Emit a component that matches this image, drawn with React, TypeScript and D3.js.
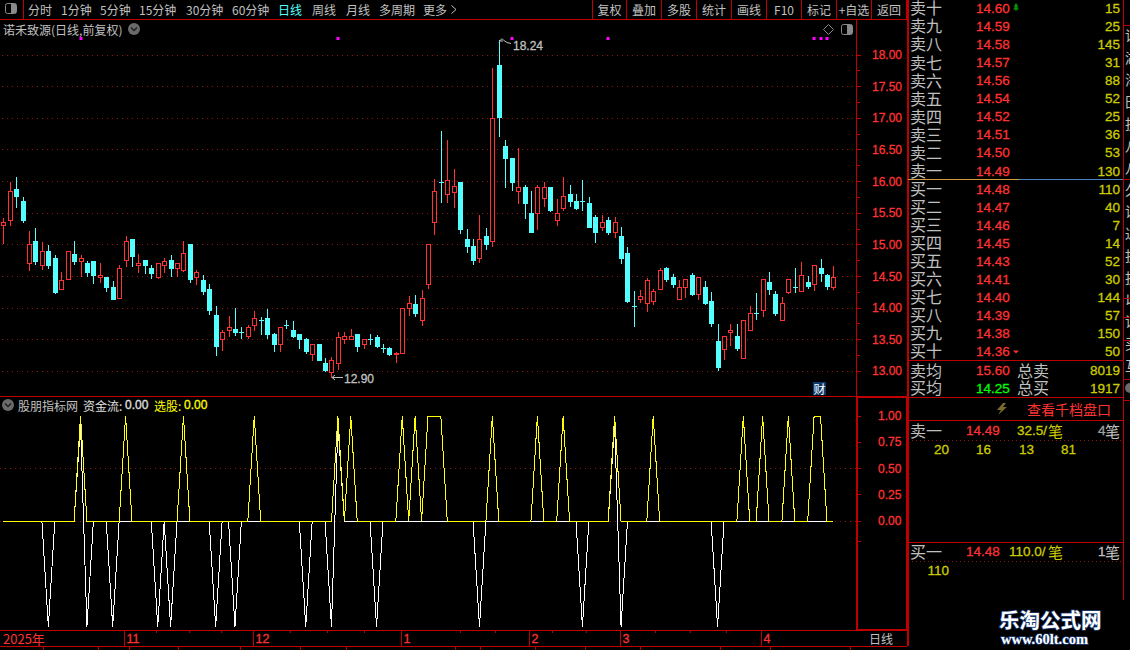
import React from "react";
import * as d3 from "d3";

const W = 1130, H = 650;

const highs = [15.43,15.99,16.07,15.76,15.22,15.27,15.05,15.00,14.84,14.57,
14.90,15.06,14.84,14.75,14.73,14.71,14.49,14.43,14.68,15.14,
15.08,14.86,14.76,14.68,14.70,14.79,14.84,14.71,15.06,15.00,
14.60,14.52,14.38,14.03,13.65,13.88,14.00,13.70,13.73,13.96,
13.86,13.99,13.61,13.70,13.81,13.80,13.59,13.53,13.42,13.42,
13.21,13.23,13.62,13.62,13.67,13.59,13.51,13.59,13.58,13.43,
13.39,13.31,14.00,14.19,14.21,14.29,15.00,16.04,16.80,16.66,
16.20,15.99,15.25,15.09,15.47,15.27,17.80,18.24,16.66,16.37,
16.53,15.95,15.85,15.95,15.99,15.91,15.72,16.07,15.95,15.80,
16.02,15.76,15.47,15.47,15.44,15.44,15.28,14.97,14.27,14.29,
14.48,14.30,14.63,14.65,14.54,14.45,14.46,14.56,14.49,14.43,
14.26,13.75,13.56,13.75,13.75,13.80,14.03,14.24,14.46,14.57,
14.27,14.18,14.45,14.63,14.73,14.51,14.68,14.78,14.54,14.67];

const lows = [15.01,15.30,15.58,15.35,14.59,14.68,14.60,14.62,14.22,14.29,
14.45,14.68,14.49,14.49,14.38,14.40,14.26,14.13,14.16,14.65,
14.65,14.56,14.54,14.46,14.46,14.56,14.49,14.49,14.57,14.40,
14.37,14.21,13.89,13.24,13.32,13.54,13.56,13.51,13.51,13.64,
13.58,13.51,13.31,13.31,13.67,13.53,13.35,13.27,13.16,13.16,
12.99,12.90,13.02,13.43,13.50,13.31,13.35,13.42,13.37,13.29,
13.24,13.13,13.29,13.88,13.86,13.72,14.30,15.16,15.66,15.66,
15.58,15.17,14.87,14.68,14.71,14.92,14.97,16.70,15.90,15.85,
15.65,15.41,15.20,15.24,15.60,15.52,15.30,15.54,15.60,15.55,
15.54,15.27,15.03,15.22,15.16,15.11,14.70,14.08,13.70,14.08,
13.94,14.05,14.29,14.41,14.32,14.14,14.16,14.19,14.13,14.05,
13.70,13.01,13.18,13.40,13.32,13.20,13.64,13.81,13.86,14.21,
13.88,13.81,14.22,14.24,14.27,14.30,14.27,14.41,14.29,14.29];

const opens = [15.31,15.39,15.87,15.68,14.70,15.06,14.68,14.90,14.78,14.29,
14.46,14.84,14.73,14.70,14.73,14.48,14.49,14.33,14.16,14.76,
15.08,14.68,14.76,14.62,14.48,14.68,14.76,14.62,14.60,15.00,
14.48,14.43,14.30,13.88,13.50,13.65,13.67,13.62,13.56,13.72,
13.81,13.83,13.58,13.42,13.72,13.64,13.58,13.51,13.26,13.42,
13.13,12.99,13.12,13.51,13.50,13.59,13.43,13.51,13.54,13.37,
13.37,13.26,13.29,13.99,14.05,13.80,14.38,15.36,15.98,15.80,
15.82,15.98,15.08,14.97,14.79,15.14,15.05,17.84,16.55,16.37,
15.84,15.91,15.49,15.50,15.74,15.91,15.39,15.58,15.79,15.68,
15.68,15.65,15.44,15.28,15.38,15.20,15.13,14.87,14.02,14.14,
14.07,14.11,14.29,14.62,14.48,14.14,14.33,14.51,14.21,14.33,
14.11,13.48,13.34,13.61,13.56,13.20,13.64,13.92,13.96,14.40,
14.22,13.81,14.24,14.32,14.27,14.41,14.38,14.62,14.52,14.32];

const closes = [15.35,15.84,15.76,15.39,15.00,14.73,14.90,14.67,14.24,14.43,
14.90,14.73,14.78,14.57,14.51,14.51,14.33,14.14,14.63,15.05,
14.81,14.70,14.67,14.54,14.70,14.73,14.62,14.71,14.87,14.46,
14.57,14.27,13.96,13.40,13.61,13.70,13.62,13.58,13.70,13.83,
13.80,13.58,13.43,13.69,13.69,13.56,13.51,13.31,13.42,13.18,
13.02,13.18,13.54,13.56,13.56,13.40,13.51,13.50,13.40,13.34,
13.27,13.29,14.00,14.07,13.91,14.16,15.00,15.84,15.96,16.02,
15.93,15.25,14.97,14.76,15.08,15.01,17.00,17.02,16.37,15.98,
15.90,15.65,15.20,15.91,15.91,15.55,15.49,15.77,15.68,15.57,
15.65,15.28,15.20,15.35,15.20,15.36,14.78,14.11,14.00,14.19,
14.43,14.27,14.59,14.45,14.38,14.32,14.46,14.21,14.49,14.08,
13.75,13.07,13.56,13.64,13.37,13.80,13.92,13.89,14.46,14.30,
13.91,14.08,14.45,14.30,14.51,14.35,14.68,14.54,14.35,14.49];

const selectSeries = [0,0,0,0,0,0,0,0,0,0,
0,0,1,0,0,0,0,0,0,1,
0,0,0,0,0,0,0,0,1,0,
0,0,0,0,0,0,0,0,0,1,
0,0,0,0,0,0,0,0,0,0,
0,0,1,0,1,0,0,0,0,0,
0,0,1,0,1,0,1,1,1,0,
0,0,0,0,0,0,1,0,0,0,
0,0,0,1,0,0,0,1,0,0,
0,0,0,0,0,1,0,0,0,0,
0,1,0,0,0,0,0,0,0,0,
0,0,0,0,0,1,0,0,1,0,
0,0,1,0,0,0,1,1,0,0];

const flowSeries = [0,0,0,0,0,0,0,-1,0,0,
0,0,0.92,-1,0,0,0,-1,0,0,
0,0,0,0,-1,0,-1,0,0,0,
0,0,0,-1,0,0,-1,0,0,0,
0,0,0,0,0,0,0,-1,0,0,
0,-1,0.92,0,0,0,0,0,-1,0,
0,0,0,0,0,0,0,0,0,0,
0,0,0,0,-1,0,0,0,0,0,
0,0,0,0,0,0,0,0,0,0,
-1,0,0,0,0,0.92,-1,0,0,0,
0,0,0,0,0,0,0,0,0,0,
0,-1,0,0,0,0,0,0,0,0,
0,0,0,0,0,0,0,0,0,0];

const markerDays = [12, 52, 79, 94, 126, 127, 128];
const priceGrid = [18, 17.5, 17, 16.5, 16, 15.5, 15, 14.5, 14, 13.5, 13];
const priceMinor = [17.75, 17.25, 16.75, 16.25, 15.75, 15.25, 14.75, 14.25, 13.75, 13.25];
const indicatorLabels = [1, 0.75, 0.5, 0.25, 0];
const indicatorExtraTicks = [-0.19];
const indicatorGrid = [0.5, 0];

const leftTabs: [string, number, boolean][] = [["分时",28,false],["1分钟",61,false],["5分钟",100,false],["15分钟",139,false],["30分钟",186,false],["60分钟",232,false],["日线",278,true],["周线",312,false],["月线",346,false],["多周期",379,false],["更多",423,false]];
const rightTabs = ["复权","叠加","多股","统计","画线","F10","标记","+自选","返回"];
const rightSeps = [592,626,661,696,731,766,801,836,871,906];

const askLabels = ["卖十","卖九","卖八","卖七","卖六","卖五","卖四","卖三","卖二","卖一"];
const askPrices = ["14.60","14.59","14.58","14.57","14.56","14.54","14.52","14.51","14.50","14.49"];
const askVols = [15,25,145,31,88,52,25,36,53,130];
const bidLabels = ["买一","买二","买三","买四","买五","买六","买七","买八","买九","买十"];
const bidPrices = ["14.48","14.47","14.46","14.45","14.43","14.41","14.40","14.39","14.38","14.36"];
const bidVols = [110,40,7,14,52,30,144,57,150,50];
const sellQueue: [string, number][] = [["20",949],["16",991],["13",1034],["81",1076]];

const monthLabels: [string, number][] = [["11",124.5],["12",253.5],["1",401.5],["2",529.5],["3",620.5],["4",761.5]];
const timeTicks = [156,189,221,290,327,364,460,495,552,586,655,690,726];
const stripSeps = [43,98,129,178,240,300,346,455,480,535,585,640,720,770,850];
const sideChars = ["证","湖","海","田","投","八","八","久","证","达","投","投","以","证","买","互"];

const RED = "#ff3232", FRAME = "#c00000", DOT = "#8c1414", GRAY = "#c0c0c0", VOL = "#cccc00", YEL = "#ffff00", CYAN = "#54ffff";
const CJK = "'Noto Sans CJK SC','Noto Sans',sans-serif";
const NUM = "'Liberation Sans',sans-serif";

const xS = d3.scaleLinear().domain([0, 129]).range([3.3, 833.4]);
const yS = d3.scaleLinear().domain([13, 18]).range([371.45, 55]);
const yI = d3.scaleLinear().domain([-1, 1]).range([626.5, 416]);
const cx = (i: number) => Math.round(xS(i)) + 0.5;
const snap = (y: number) => Math.round(y - 0.5) + 0.5;

const indicatorLine = d3.line<number>().x((_, i) => xS(i)).y((d) => yI(d));

function T({ x, y, c = GRAY, s = 12, a = "start", f = CJK, w = 400, children }: any) {
  const isNum = f === NUM;
  const dy = isNum ? 0 : -1;
  return <text x={x} y={y + dy} fill={c} fontSize={s} textAnchor={a} fontFamily={f} fontWeight={w} dominantBaseline="central"
    stroke={isNum ? c : undefined} strokeWidth={isNum ? 0.3 : undefined}>{children}</text>;
}
function HL({ x1, x2, y, c = FRAME, w = 1, dash }: any) {
  return <line x1={x1} x2={x2} y1={y} y2={y} stroke={c} strokeWidth={w} strokeDasharray={dash} shapeRendering="crispEdges" />;
}
function VL({ x, y1, y2, c = FRAME, w = 1 }: any) {
  return <line x1={x} x2={x} y1={y1} y2={y2} stroke={c} strokeWidth={w} shapeRendering="crispEdges" />;
}
function Chevron({ x, y }: { x: number; y: number }) {
  return <g>
    <circle cx={x} cy={y} r={6} fill="#6a6a6a" />
    <path d={`M${x - 3} ${y - 1.5}L${x} ${y + 1.5}L${x + 3} ${y - 1.5}`} fill="none" stroke="#1c1c1c" strokeWidth={1.3} />
  </g>;
}
function PanelIcon({ x, y }: { x: number; y: number }) {
  return <g>
    <rect x={x + 0.5} y={y + 0.5} width={11} height={10} rx={2} fill="none" stroke="#8a8a8a" />
    <rect x={x + 6} y={y + 1} width={5} height={9} fill="#8a8a8a" />
  </g>;
}

export default function App() {
  const n = opens.length;
  return (
    <svg width={W} height={H} viewBox={`0 0 ${W} ${H}`} style={{ position: "fixed", left: 0, top: 0, display: "block", background: "#000" }}>
      <rect width={W} height={H} fill="#000" />

      {/* toolbar */}
      <PanelIcon x={5} y={3} />
      <VL x={23.5} y1={0} y2={19} />
      {leftTabs.map(([t, x, on]) => <T key={t} x={x} y={10} c={on ? CYAN : GRAY}>{t}</T>)}
      <path d="M451.5 5.5L456 9.5L451.5 13.5" fill="none" stroke={GRAY} />
      <HL x1={0} x2={907} y={19.5} />
      {rightSeps.map((x) => <VL key={x} x={x + 0.5} y1={0} y2={19} />)}
      {rightTabs.map((t, i) => <T key={t} x={(rightSeps[i] + rightSeps[i + 1]) / 2 + 0.5} y={10} a="middle">{t}</T>)}

      {/* main panel */}
      <T x={3} y={30}>诺禾致源(日线,前复权)</T>
      <Chevron x={134} y={29} />
      {priceGrid.map((p) => <HL key={p} x1={2} x2={856} y={snap(yS(p))} c={DOT} dash="1 4" />)}
      {markerDays.map((i) => <rect key={i} x={cx(i) - 2} y={37} width={3} height={3} fill="#ff00ff" />)}
      <path d="M828.5 24.5L833.5 29.5L828.5 34.5L823.5 29.5Z" fill="none" stroke="#8a8a8a" />
      <PanelIcon x={841} y={24} />

      <g shapeRendering="crispEdges">
        {d3.range(n).map((i) => {
          const up = closes[i] >= opens[i];
          const col = up ? RED : CYAN;
          const top = snap(yS(Math.max(opens[i], closes[i])));
          const bot = snap(yS(Math.min(opens[i], closes[i])));
          const c = cx(i);
          const hh = bot - top;
          return <g key={i}>
            <line x1={c} x2={c} y1={yS(highs[i])} y2={yS(lows[i])} stroke={col} strokeWidth={1} />
            {up
              ? <rect x={c - 2} y={top} width={4} height={Math.max(hh, 1)} fill="#000" stroke={col} strokeWidth={1} />
              : hh <= 2
                ? <line x1={c - 2.5} x2={c + 2.5} y1={top} y2={top} stroke={col} strokeWidth={1} />
                : <rect x={c - 2.5} y={top - 0.5} width={5} height={hh + 1} fill={col} />}
          </g>;
        })}
      </g>

      <path d="M499 42.5C501 38 502 38.5 504 40.5L507 42.5L511 43.5" fill="none" stroke={GRAY} />
      <path d="M500 41L503 41" stroke={GRAY} />
      <T x={513} y={46} f={NUM} s={12}>18.24</T>
      <path d="M343 377.5H332M335 375L332 377.5L335 380" fill="none" stroke={GRAY} />
      <T x={344} y={378.5} f={NUM} s={12}>12.90</T>

      <rect x={813} y={382} width={13} height={13} fill="#0a3a6e" />
      <T x={819.5} y={389} c="#fff" a="middle" s={12}>财</T>

      <HL x1={0} x2={907} y={396.5} />

      {/* price axis */}
      <VL x={856.5} y1={19} y2={630} w={1} />
      {priceGrid.map((p) => <g key={p}>
        <HL x1={856} x2={861} y={snap(yS(p))} />
        <T x={872} y={yS(p)} c={RED} f={NUM} s={12}>{p.toFixed(2)}</T>
      </g>)}
      {priceMinor.map((p) => <HL key={p} x1={856} x2={860} y={snap(yS(p))} />)}

      {/* indicator panel */}
      <Chevron x={8} y={405} />
      <T x={18} y={406}>股朋指标网</T>
      <T x={83} y={406} c="#e0e0e0">资金流: </T>
      <T x={125} y={405} c="#e0e0e0" f={NUM} s={12}>0.00</T>
      <T x={154} y={406} c={YEL}>选股: </T>
      <T x={184} y={405} c={YEL} f={NUM} s={12}>0.00</T>
      {indicatorGrid.map((v) => <HL key={v} x1={0} x2={856} y={snap(yI(v))} c={DOT} dash="1 4" />)}
      <path d={indicatorLine(flowSeries) || ""} fill="none" stroke="#fff" strokeWidth={1} shapeRendering="crispEdges" />
      <path d={indicatorLine(selectSeries) || ""} fill="none" stroke={YEL} strokeWidth={1} shapeRendering="crispEdges" />
      {indicatorLabels.map((v) => <g key={v}>
        <HL x1={856} x2={861} y={snap(yI(v))} />
        <T x={878} y={yI(v)} c={RED} f={NUM} s={12}>{v.toFixed(2)}</T>
      </g>)}
      {indicatorExtraTicks.map((v) => <HL key={v} x1={856} x2={861} y={snap(yI(v))} />)}

      {/* frames round the axis */}
      <rect x={857} y={397} width={50} height={233} fill="none" stroke={FRAME} strokeWidth={2} shapeRendering="crispEdges" />
      <VL x={907.5} y1={0} y2={646} w={2} />

      {/* time axis */}
      <HL x1={0} x2={907} y={630.5} />
      <HL x1={0} x2={907} y={646.5} />
      <T x={3} y={639.5} c={RED} s={13}>2025年</T>
      {monthLabels.map(([t, x]) => <g key={t}>
        <VL x={x} y1={630} y2={646} />
        <T x={x + 2} y={638.5} c={RED} f={NUM} s={12.5}>{t}</T>
      </g>)}
      {timeTicks.map((x) => <VL key={x} x={x + 0.5} y1={630} y2={633} />)}
      <T x={869} y={639} s={12}>日线</T>
      {stripSeps.map((x) => <VL key={x} x={x + 0.5} y1={646} y2={650} />)}
      <T x={5} y={656} s={12}>指标</T>
      <T x={47} y={656} s={12} c={VOL}>模板</T>
      <T x={350} y={656} s={12}>指标</T>
      <T x={780} y={656} s={12}>模板</T>

      {/* order book */}
      <VL x={1123.5} y1={0} y2={600} />
      {askLabels.map((t, i) => {
        const y = 8.3 + i * 18.08;
        return <g key={t}>
          <T x={910} y={y} s={16}>{t}</T>
          <T x={976} y={y} c={RED} f={NUM} s={13.5}>{askPrices[i]}</T>
          <T x={1120} y={y} c={VOL} f={NUM} s={13.5} a="end">{askVols[i]}</T>
        </g>;
      })}
      <path d="M1016 3L1018.5 6.5H1017L1019 9.5H1017V10.5H1015V9.5H1013L1015 6.5H1013.5Z" fill="#0a8a0a" />
      <line x1={908} x2={1019} y1={179.5} y2={179.5} stroke="#d89a40" shapeRendering="crispEdges" />
      <line x1={1019} x2={1123} y1={179.5} y2={179.5} stroke="#4a86c8" shapeRendering="crispEdges" />
      {bidLabels.map((t, i) => {
        const y = 189 + i * 18.02;
        return <g key={t}>
          <T x={910} y={y} s={16}>{t}</T>
          <T x={976} y={y} c={RED} f={NUM} s={13.5}>{bidPrices[i]}</T>
          <T x={1120} y={y} c={VOL} f={NUM} s={13.5} a="end">{bidVols[i]}</T>
        </g>;
      })}
      <path d="M1013 350.5H1019L1016 353.5Z" fill={RED} />
      <HL x1={908} x2={1123} y={360.5} />
      <T x={910} y={370.5} s={16}>卖均</T>
      <T x={976} y={370.5} c={RED} f={NUM} s={13.5}>15.60</T>
      <T x={1017} y={370.5} s={16}>总卖</T>
      <T x={1120} y={370.5} c={VOL} f={NUM} s={13.5} a="end">8019</T>
      <T x={910} y={388} s={16}>买均</T>
      <T x={976} y={388} c="#00ff00" f={NUM} s={13.5}>14.25</T>
      <T x={1017} y={388} s={16}>总买</T>
      <T x={1120} y={388} c={VOL} f={NUM} s={13.5} a="end">1917</T>
      <HL x1={908} x2={1123} y={397.5} />
      <path d="M1003 403L997 410H1001L998 415L1007 407H1003L1006 403Z" fill="#7a6a30" />
      <T x={1027} y={409.5} c={RED} s={14}>查看千档盘口</T>
      <HL x1={908} x2={1123} y={420.5} />
      <T x={910} y={431} s={16}>卖一</T>
      <T x={966} y={430} c={RED} f={NUM} s={13.5}>14.49</T>
      <T x={1017} y={430} c={VOL} f={NUM} s={13.5}>32.5/</T>
      <T x={1048} y={431} c={VOL} s={15}>笔</T>
      <T x={1098} y={430} f={NUM} s={13.5} c="#a0a0a0">4</T>
      <T x={1105} y={431} s={15}>笔</T>
      <HL x1={908} x2={1123} y={440.5} c={DOT} dash="1 3" />
      {sellQueue.map(([t, x]) => <T key={x} x={x} y={449} c={VOL} f={NUM} s={13.5} a="end">{t}</T>)}
      <HL x1={908} x2={1123} y={542.5} />
      <T x={910} y={552} s={16}>买一</T>
      <T x={966} y={551} c={RED} f={NUM} s={13.5}>14.48</T>
      <T x={1009} y={551} c={VOL} f={NUM} s={13.5}>110.0/</T>
      <T x={1048} y={552} c={VOL} s={15}>笔</T>
      <T x={1098} y={551} f={NUM} s={13.5}>1</T>
      <T x={1105} y={552} s={15}>笔</T>
      <HL x1={908} x2={1123} y={561.5} c={DOT} dash="1 3" />
      <T x={949} y={570} c={VOL} f={NUM} s={13.5} a="end">110</T>

      {/* clipped side column */}
      {sideChars.map((t, i) => <T key={i} x={1125} y={36 + i * 22} s={14}>{t}</T>)}
      <HL x1={1124} x2={1130} y={25.5} />
      <HL x1={1124} x2={1130} y={179.5} />
      <HL x1={1124} x2={1130} y={298.5} />
      <HL x1={1124} x2={1130} y={317.5} />
      <HL x1={1124} x2={1130} y={340.5} />
      <HL x1={1124} x2={1130} y={379.5} />
      <HL x1={1124} x2={1130} y={400.5} />
      <circle cx={1130} cy={388} r={5} fill="#6a6a6a" />

      {/* watermark */}
      <g style={{ paintOrder: "stroke" }} stroke="#1f3f78" strokeWidth={1.5}>
        <T x={999} y={620} c="#fff" s={20.5} w={700}>乐淘公式网</T>
        <T x={1001} y={640} c="#fff" s={14.5} w={700} f="'Liberation Serif',serif">www.60lt.com</T>
      </g>
    </svg>
  );
}
